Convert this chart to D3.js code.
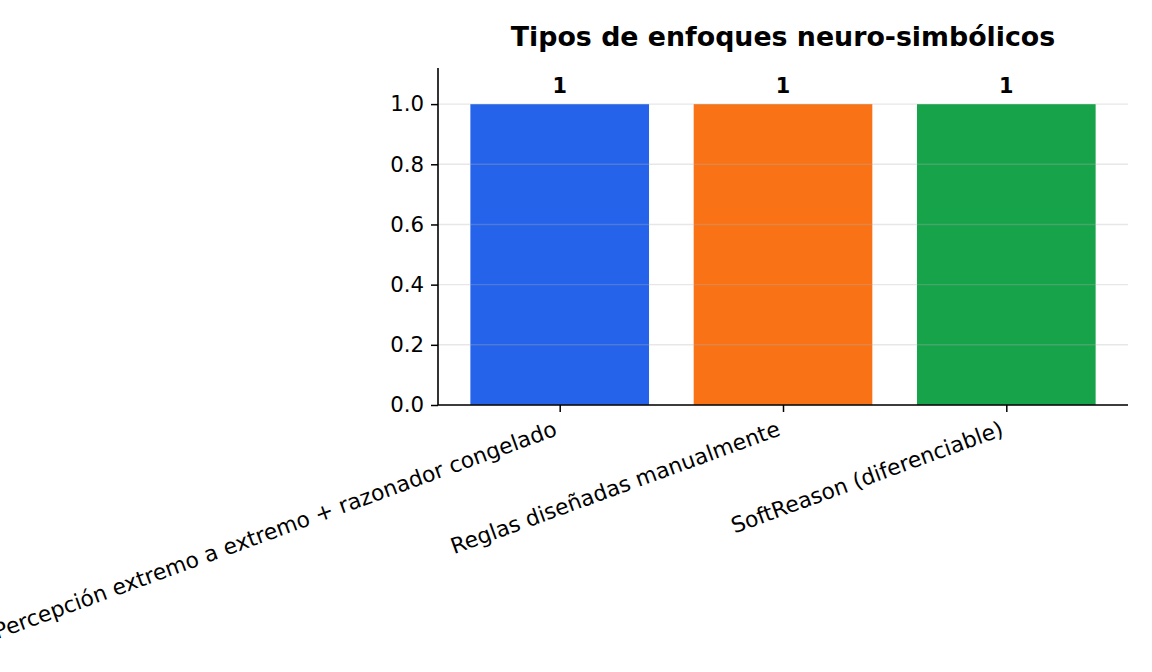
<!DOCTYPE html>
<html>
<head>
<meta charset="utf-8">
<script src="https://cdn.jsdelivr.net/npm/d3@7"></script>
<style>
  body { margin: 0; background: #fff; }
  svg { font-family: "DejaVu Sans", sans-serif; }
</style>
</head>
<body>
<svg id="chart" width="1152" height="672"></svg>
<script>
const categories = [
  "Percepción extremo a extremo + razonador congelado",
  "Reglas diseñadas manualmente",
  "SoftReason (diferenciable)"
];
const counts = [1, 1, 1];
const barColors = ["#2563eb", "#f97316", "#16a34a"];
const yTicks = [0, 0.2, 0.4, 0.6, 0.8, 1.0];
const title = "Tipos de enfoques neuro-simbólicos";

const plotLeft = 438, plotRight = 1128, plotTop = 68, plotBottom = 405;

const svg = d3.select("#chart");

const x = d3.scaleLinear()
  .domain([-0.545, categories.length - 1 + 0.545])
  .range([plotLeft, plotRight]);

const y = d3.scaleLinear()
  .domain([0, 1.12])
  .range([plotBottom, plotTop]);

const barW = x(0.8) - x(0);

// bars
svg.selectAll(".bar")
  .data(counts)
  .enter()
  .append("rect")
  .attr("class", "bar")
  .attr("x", (d, i) => x(i) - barW / 2)
  .attr("y", d => y(d))
  .attr("width", barW)
  .attr("height", d => y(0) - y(d))
  .attr("fill", (d, i) => barColors[i]);

// grid on top of bars, faint
svg.append("g")
  .selectAll("line")
  .data(yTicks)
  .enter()
  .append("line")
  .attr("x1", plotLeft)
  .attr("x2", plotRight)
  .attr("y1", d => y(d))
  .attr("y2", d => y(d))
  .attr("stroke", "#b0b0b0")
  .attr("stroke-opacity", 0.3)
  .attr("stroke-width", 1.4);

// value labels
svg.selectAll(".val")
  .data(counts)
  .enter()
  .append("text")
  .attr("class", "val")
  .attr("x", (d, i) => x(i))
  .attr("y", d => y(d) - 11)
  .attr("text-anchor", "middle")
  .attr("font-size", "20.8px")
  .attr("font-weight", "bold")
  .text(d => d);

// y axis
const yAxis = svg.append("g")
  .attr("transform", `translate(${plotLeft},0)`)
  .call(d3.axisLeft(y).tickValues(yTicks).tickFormat(d3.format(".1f")).tickSize(7).tickPadding(7));
yAxis.select(".domain").attr("d", `M0,${plotBottom}V${plotTop}`).attr("stroke", "#000").attr("stroke-width", 1.6);
yAxis.selectAll(".tick line").attr("stroke", "#000").attr("stroke-width", 1.5);
yAxis.selectAll(".tick text").attr("font-size", "21.3px").attr("fill", "#000").attr("font-family", "DejaVu Sans");

// x axis
const xAxis = svg.append("g")
  .attr("transform", `translate(0,${plotBottom})`)
  .call(d3.axisBottom(x).tickValues(d3.range(categories.length)).tickFormat(i => categories[i]).tickSize(7));
xAxis.select(".domain").attr("d", `M${plotLeft},0H${plotRight}`).attr("stroke", "#000").attr("stroke-width", 1.6);
xAxis.selectAll(".tick line").attr("stroke", "#000").attr("stroke-width", 1.5);
xAxis.selectAll(".tick text")
  .attr("font-size", "21.8px")
  .attr("fill", "#000")
  .attr("font-family", "DejaVu Sans")
  .attr("text-anchor", "end")
  .attr("dy", null)
  .attr("y", 0)
  .attr("transform", "translate(-2,30) rotate(-20)");

// title
svg.append("text")
  .attr("x", (plotLeft + plotRight) / 2)
  .attr("y", 46)
  .attr("text-anchor", "middle")
  .attr("font-size", "26.8px")
  .attr("font-weight", "bold")
  .text(title);
</script>
</body>
</html>
